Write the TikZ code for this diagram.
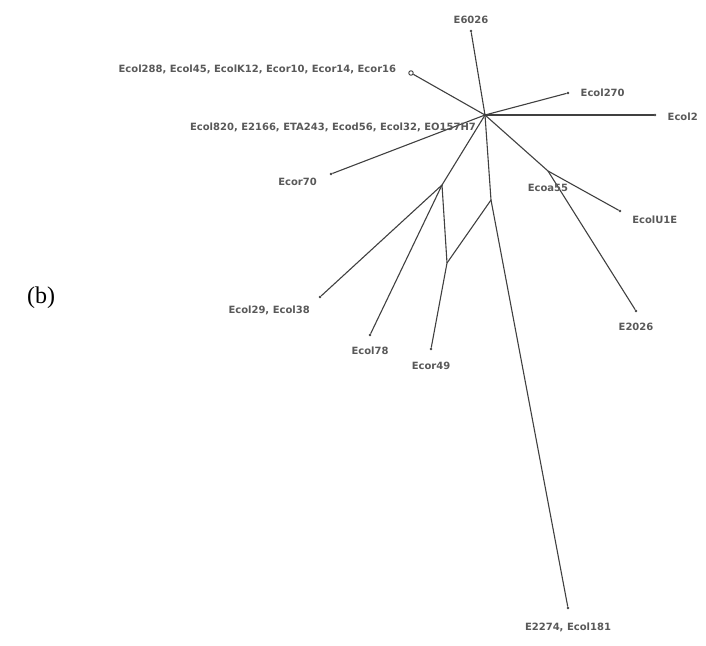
\documentclass[tikz,border=0pt]{standalone}
\usepackage{fontspec}
\setmainfont{Liberation Serif}
\newfontfamily\taxafont{DejaVu Sans}
\usepackage{tikz}
\usetikzlibrary{positioning}
\tikzstyle{branch} = [draw=black!75, line width=1.1pt]
\tikzstyle{leaf} = [circle, fill=black!75, inner sep=0pt, minimum size=2.6pt]
\tikzstyle{taxon} = [font=\taxafont\bfseries\fontsize{10}{11}\selectfont,
    text=black!65, inner sep=1pt]

\begin{document}
\begin{tikzpicture}[x=1pt, y=-1pt]
        \useasboundingbox (0,0) rectangle (706,645);

        % internal nodes of the tree
        \coordinate (root) at (485,115);
        \coordinate (nA) at (442,185);
        \coordinate (nB) at (491,200);
        \coordinate (nC) at (548,171);
        \coordinate (nE) at (447,263);

        % leaves
        \node[leaf] (e6026) at (471,31) {};
        \node[circle, draw=black!75, inner sep=0pt, minimum size=4.5pt,
              line width=0.9pt] (c288) at (411,73) {};
        \node[leaf] (c270) at (568,93) {};
        \node[leaf] (c2) at (655,115) {};
        \node[leaf] (r70) at (331,174) {};
        \node[leaf] (u1e) at (620,211) {};
        \node[leaf] (e2026) at (636,311) {};
        \node[leaf] (c29) at (320,297) {};
        \node[leaf] (c78) at (370,335) {};
        \node[leaf] (r49) at (431,349) {};
        \node[leaf] (e2274) at (568,608) {};

        % branches
        \draw[branch] (root) -- (e6026);
        \draw[branch] (root) -- (c288);
        \draw[branch] (root) -- (c270);
        \draw[branch] (root) -- (c2);
        \draw[branch] (root) -- (r70);
        \draw[branch] (root) -- (nA);
        \draw[branch] (root) -- (nB);
        \draw[branch] (root) -- (nC);
        \draw[branch] (nC) -- (u1e);
        \draw[branch] (nC) -- (e2026);
        \draw[branch] (nA) -- (c29);
        \draw[branch] (nA) -- (c78);
        \draw[branch] (nA) -- (nE);
        \draw[branch] (nE) -- (nB);
        \draw[branch] (nE) -- (r49);
        \draw[branch] (nB) -- (e2274);

        % taxon labels
        \node[taxon, above=5pt of e6026] (l6026) {E6026};
        \node[taxon, left=11pt of c288, yshift=4pt] (l288)
            {Ecol288, Ecol45, EcolK12, Ecor10, Ecor14, Ecor16};
        \node[taxon, anchor=east] (l820) at (477,127)
            {Ecol820, E2166, ETA243, Ecod56, Ecol32, EO157H7};
        \node[taxon, right=10pt of c270] (l270) {Ecol270};
        \node[taxon, right=10pt of c2, yshift=-2pt] (l2) {Ecol2};
        \node[taxon, below left=2pt and 12pt of r70] (l70) {Ecor70};
        \node[taxon, below=12pt of nC] (l55) {Ecoa55};
        \node[taxon, below right=3pt and 10pt of u1e] (lu1e) {EcolU1E};
        \node[taxon, below=9pt of e2026] (l2026) {E2026};
        \node[taxon, below left=7pt and 8pt of c29] (l29) {Ecol29, Ecol38};
        \node[taxon, below=9pt of c78] (l78) {Ecol78};
        \node[taxon, below=10pt of r49] (l49) {Ecor49};
        \node[taxon, below=12pt of e2274] (l2274) {E2274, Ecol181};

        % panel letter
        \node[font=\fontsize{24}{28}\selectfont] (panel) at (41,298) {(b)};
    \end{tikzpicture}
\end{document}
